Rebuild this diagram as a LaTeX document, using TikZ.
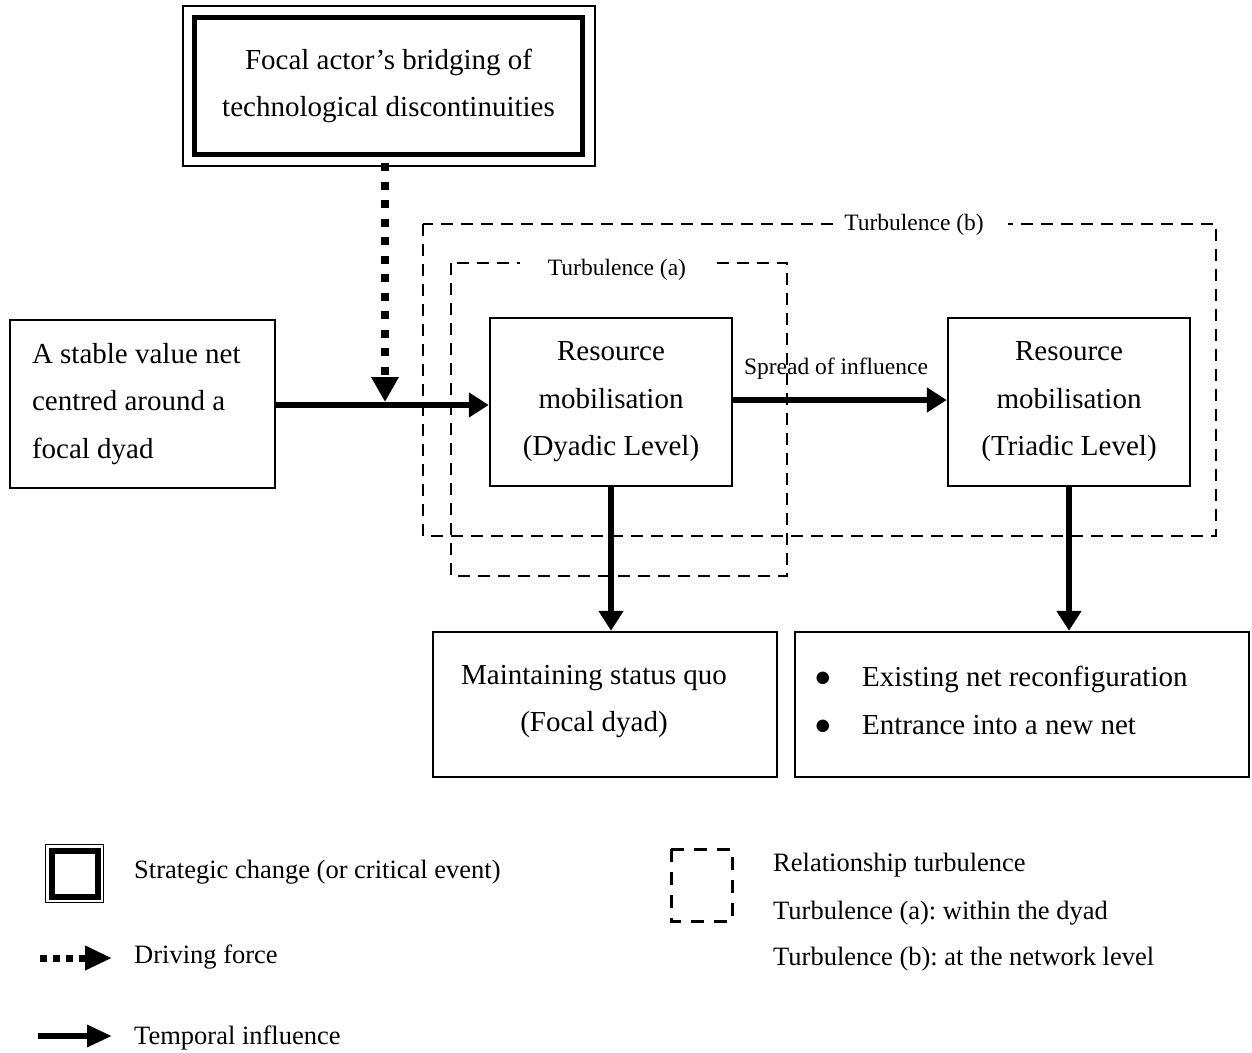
\documentclass[tikz,border=0pt]{standalone}
\usepackage{fontspec}
\setmainfont{Liberation Serif}
\usetikzlibrary{arrows.meta}
\frenchspacing
\begin{document}
\frenchspacing
\begin{tikzpicture}[x=1pt,y=-1pt,
  box/.style={draw, line width=2.5pt, inner sep=0pt, align=center},
  big/.style={font=\fontsize{29}{47.5}\selectfont},
  small/.style={font=\fontsize{23.5}{28}\selectfont},
  leg/.style={font=\fontsize{26.5}{32}\selectfont, inner sep=0pt},
  solidarrow/.style={line width=6pt, -{Triangle[length=20pt,width=24pt]}},
  drivearrow/.style={line width=8pt, dash pattern=on 8pt off 10.5pt, -{Triangle[length=25pt,width=26pt]}},
  turb/.style={draw, line width=2pt, dash pattern=on 12pt off 8pt},
]
\useasboundingbox (0,0) rectangle (1252,1052);

% turbulence frames
\draw[turb] (423,224) rectangle (1216,536);
\node[small, fill=white, inner xsep=24pt, inner ysep=2pt] (tb) at (924,225) {\hspace*{-20pt}Turbulence (b)};
\draw[turb] (451,263) rectangle (787,576);
\node[small, fill=white, inner xsep=28pt, inner ysep=2pt] (ta) at (617,270) {Turbulence (a)};

% top box
\node[box, line width=5pt, big, minimum width=388pt, minimum height=137pt] (focal) at (388.5,86)
  {Focal actor's bridging of\\technological discontinuities};
\draw[line width=1.5pt] ([shift={(-9pt,9pt)}]focal.north west) rectangle ([shift={(10pt,-9pt)}]focal.south east);

% main boxes
\node[box, big, align=flush left, text width=221pt, inner xsep=22pt, minimum width=265pt, minimum height=168pt] (stable) at (142.5,404)
  {A stable value net\\centred around a\\focal dyad};
\node[box, big, minimum width=242pt, minimum height=168pt] (dyad) at (611,402)
  {Resource\\mobilisation\\(Dyadic Level)};
\node[box, big, minimum width=242pt, minimum height=168pt] (triad) at (1069,402)
  {Resource\\mobilisation\\(Triadic Level)};

\node[box, minimum width=344pt, minimum height=145pt] (maint) at (605,704.5) {};
\node[big, align=center, inner sep=0pt] (mainttext) at (594,701.5) {Maintaining status quo\\(Focal dyad)};
\node[box, minimum width=454pt, minimum height=145pt] (outcome) at (1022,704.5) {};
\node[big, anchor=west, align=flush left, inner sep=0pt] (outtext) at (814,700.5)
  {\makebox[48pt][l]{●}Existing net reconfiguration\\\makebox[48pt][l]{●}Entrance into a new net};

% connectors
\coordinate (j) at (385,405);
\coordinate (ds) at (385,163);
\draw[solidarrow] (stable.east |- j) -- (dyad.west |- j);
\draw[drivearrow, shorten >=3pt] (ds) -- (j);
\draw[solidarrow] ([yshift=2pt]dyad.east) -- ([yshift=2pt]triad.west);
\node[small, inner sep=0pt] (spread) at (836,369) {Spread of influence};
\draw[solidarrow] (dyad.south) -- (dyad.south |- maint.north);
\draw[solidarrow] (triad.south) -- (triad.south |- outcome.north);

% legend
\draw[line width=1.5pt] (45.5,844.5) rectangle (103.5,902.5);
\draw[line width=6pt] (51.5,850.5) rectangle (97.5,896.5);
\node[leg, anchor=west] (l1) at (134,872) {Strategic change (or critical event)};
\coordinate (d1) at (40,958);
\coordinate (d2) at (112,958);
\draw[line width=7pt, dash pattern=on 7pt off 6pt, -{Triangle[length=27pt,width=23pt]}] (d1) -- (d2);
\node[leg, anchor=west] (l2) at (134,957) {Driving force};
\coordinate (t1) at (38,1036);
\coordinate (t2) at (112,1036);
\draw[line width=6pt, -{Triangle[length=25pt,width=21pt]}] (t1) -- (t2);
\node[leg, anchor=west] (l3) at (134,1038) {Temporal influence};
\draw[line width=3pt, dash pattern=on 13pt off 10pt] (671,849) rectangle (732,921);
\node[leg, anchor=west] (l4) at (773,865) {Relationship turbulence};
\node[leg, anchor=west] (l5) at (773,913) {Turbulence (a): within the dyad};
\node[leg, anchor=west] (l6) at (773,959) {Turbulence (b): at the network level};
\end{tikzpicture}
\end{document}
